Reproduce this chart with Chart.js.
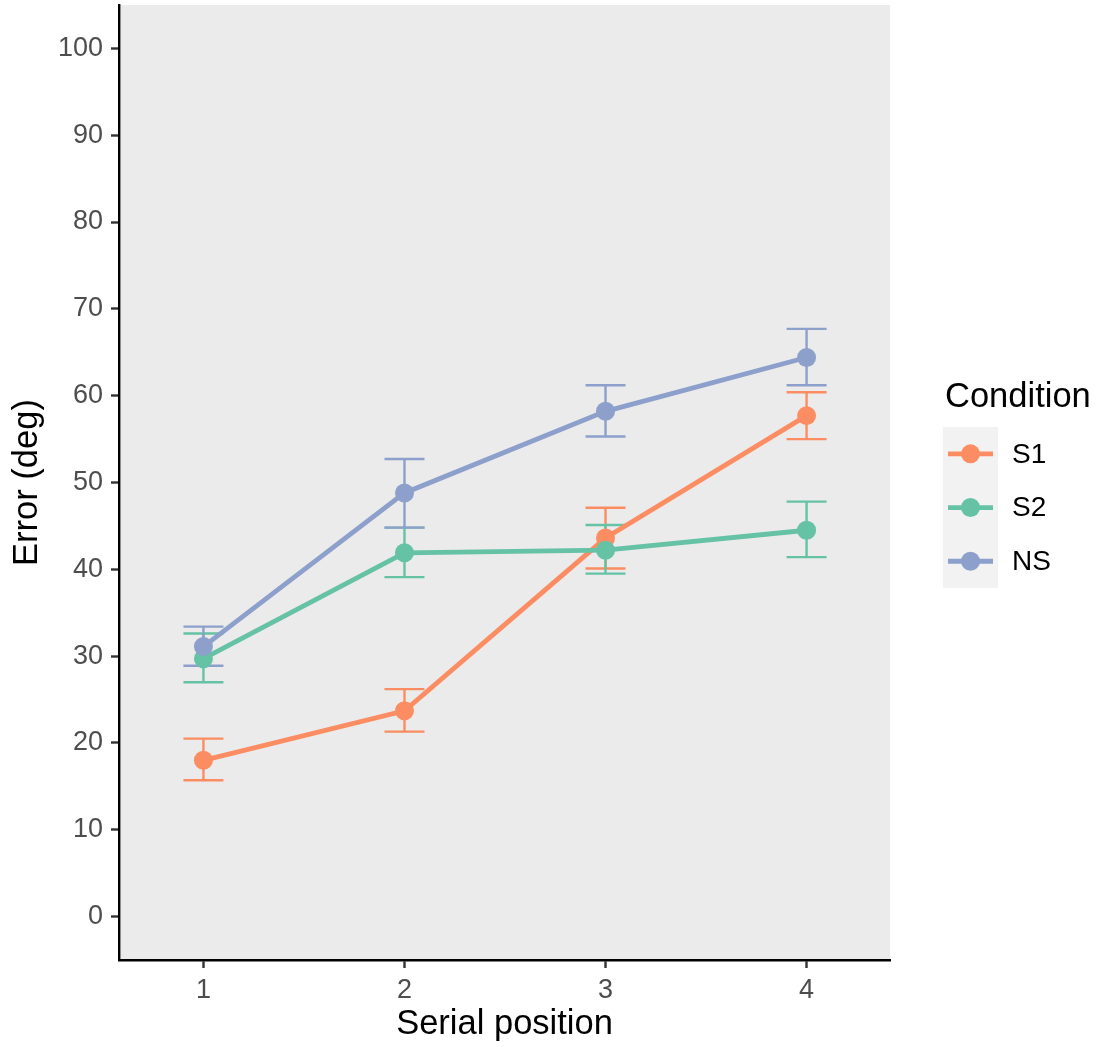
<!DOCTYPE html>
<html>
<head>
<meta charset="utf-8">
<script src="https://cdn.jsdelivr.net/npm/chart.js@4.4.1/dist/chart.umd.min.js"></script>
<style>
  html, body { margin: 0; background: #fff; }
  #wrap { width: 1096px; height: 1047px; }
</style>
</head>
<body>
<div id="wrap"><canvas id="chart"></canvas></div>
<script>
// serial positions and y-axis ticks
const positions = [1, 2, 3, 4];
const yTicks = [0, 10, 20, 30, 40, 50, 60, 70, 80, 90, 100];

const conditions = ["S1", "S2", "NS"];
const colors = ["#FC8D62", "#66C2A5", "#8DA0CB"];

// mean error and error-bar limits per condition
const s1Mean = [18.0, 23.7, 43.6, 57.7];
const s1Low = [15.7, 21.3, 40.1, 55.0];
const s1High = [20.5, 26.2, 47.1, 60.4];

const s2Mean = [29.7, 41.9, 42.2, 44.5];
const s2Low = [27.0, 39.1, 39.5, 41.4];
const s2High = [32.6, 44.8, 45.1, 47.8];

const nsMean = [31.1, 48.8, 58.2, 64.4];
const nsLow = [28.9, 44.8, 55.3, 61.2];
const nsHigh = [33.4, 52.7, 61.2, 67.7];

const means = [s1Mean, s2Mean, nsMean];
const lows = [s1Low, s2Low, nsLow];
const highs = [s1High, s2High, nsHigh];

const FONT = '"Liberation Sans", Arial, sans-serif';

// grey panel behind the plot
const panelBg = {
  id: "panelBg",
  beforeDraw(chart) {
    const { ctx, chartArea: a } = chart;
    ctx.save();
    ctx.fillStyle = "#EBEBEB";
    ctx.fillRect(a.left, a.top, a.right - a.left, a.bottom - a.top);
    ctx.restore();
  },
};

// whiskers with caps, drawn under the lines
const errorBars = {
  id: "errorBars",
  beforeDatasetsDraw(chart) {
    const { ctx, scales } = chart;
    const half = 20;
    ctx.save();
    ctx.lineWidth = 2.4;
    conditions.forEach((c, k) => {
      ctx.strokeStyle = colors[k];
      positions.forEach((p, i) => {
        const x = scales.x.getPixelForValue(p);
        const y1 = scales.y.getPixelForValue(lows[k][i]);
        const y2 = scales.y.getPixelForValue(highs[k][i]);
        ctx.beginPath();
        ctx.moveTo(x, y1);
        ctx.lineTo(x, y2);
        ctx.moveTo(x - half, y1);
        ctx.lineTo(x + half, y1);
        ctx.moveTo(x - half, y2);
        ctx.lineTo(x + half, y2);
        ctx.stroke();
      });
    });
    ctx.restore();
  },
};

// legend on the right side, ggplot style
const sideLegend = {
  id: "sideLegend",
  afterDraw(chart) {
    const { ctx, chartArea: a } = chart;
    const left = a.right + 53;
    const keyTop = 427;
    const keyH = 53.7;
    ctx.save();
    ctx.fillStyle = "#000";
    ctx.font = "34.5px " + FONT;
    ctx.textBaseline = "alphabetic";
    ctx.fillText("Condition", left + 2, 407);

    ctx.fillStyle = "#F2F2F2";
    ctx.fillRect(left, keyTop, 55, keyH * conditions.length);

    conditions.forEach((c, k) => {
      const cy = keyTop + keyH * (k + 0.5);
      ctx.strokeStyle = colors[k];
      ctx.lineWidth = 4.8;
      ctx.beginPath();
      ctx.moveTo(left + 5, cy);
      ctx.lineTo(left + 50, cy);
      ctx.stroke();
      ctx.fillStyle = colors[k];
      ctx.beginPath();
      ctx.arc(left + 27.5, cy, 9.5, 0, Math.PI * 2);
      ctx.fill();
      ctx.fillStyle = "#000";
      ctx.font = "28px " + FONT;
      ctx.textBaseline = "middle";
      ctx.fillText(c, left + 69, cy + 1);
    });
    ctx.restore();
  },
};

const chart = document.querySelector("#chart").getContext("2d");

new Chart(chart, {
  type: "line",
  data: {
    datasets: conditions.map((c, k) => ({
      label: c,
      data: positions.map((p, i) => ({ x: p, y: means[k][i] })),
      borderColor: colors[k],
      backgroundColor: colors[k],
      borderWidth: 4.8,
      pointRadius: 9.5,
      pointHoverRadius: 9.5,
      pointBorderWidth: 0,
      tension: 0,
      order: conditions.length - k,
    })),
  },
  options: {
    responsive: true,
    maintainAspectRatio: false,
    animation: false,
    layout: {
      autoPadding: false,
      padding: { top: 5, right: 206, left: 0, bottom: 0 },
    },
    plugins: {
      legend: { display: false },
      tooltip: { enabled: false },
    },
    scales: {
      x: {
        type: "linear",
        min: 0.58,
        max: 4.415,
        afterBuildTicks: (s) => {
          s.ticks = positions.map((v) => ({ value: v }));
        },
        afterFit: (s) => {
          s.height = 87;
          s.paddingLeft = 0;
          s.paddingRight = 0;
        },
        ticks: {
          font: { size: 27, family: FONT },
          color: "#4D4D4D",
          padding: 6,
        },
        grid: {
          drawOnChartArea: false,
          drawTicks: true,
          tickLength: 8,
          tickColor: "#333333",
          tickWidth: 2.4,
        },
        border: { color: "#000", width: 2.4 },
        title: {
          display: true,
          text: "Serial position",
          font: { size: 34.5, family: FONT },
          color: "#000",
          padding: { top: 0, bottom: 2 },
        },
      },
      y: {
        min: -5,
        max: 105,
        afterBuildTicks: (s) => {
          s.ticks = yTicks.map((v) => ({ value: v }));
        },
        afterFit: (s) => {
          s.width = 119;
          s.paddingTop = 0;
          s.paddingBottom = 0;
        },
        ticks: {
          font: { size: 27, family: FONT },
          color: "#4D4D4D",
          padding: 8,
        },
        grid: {
          drawOnChartArea: false,
          drawTicks: true,
          tickLength: 8,
          tickColor: "#333333",
          tickWidth: 2.4,
        },
        border: { color: "#000", width: 2.4 },
        title: {
          display: true,
          text: "Error (deg)",
          font: { size: 34.5, family: FONT },
          color: "#000",
          padding: { top: 7, bottom: 0 },
        },
      },
    },
  },
  plugins: [panelBg, errorBars, sideLegend],
});
</script>
</body>
</html>
